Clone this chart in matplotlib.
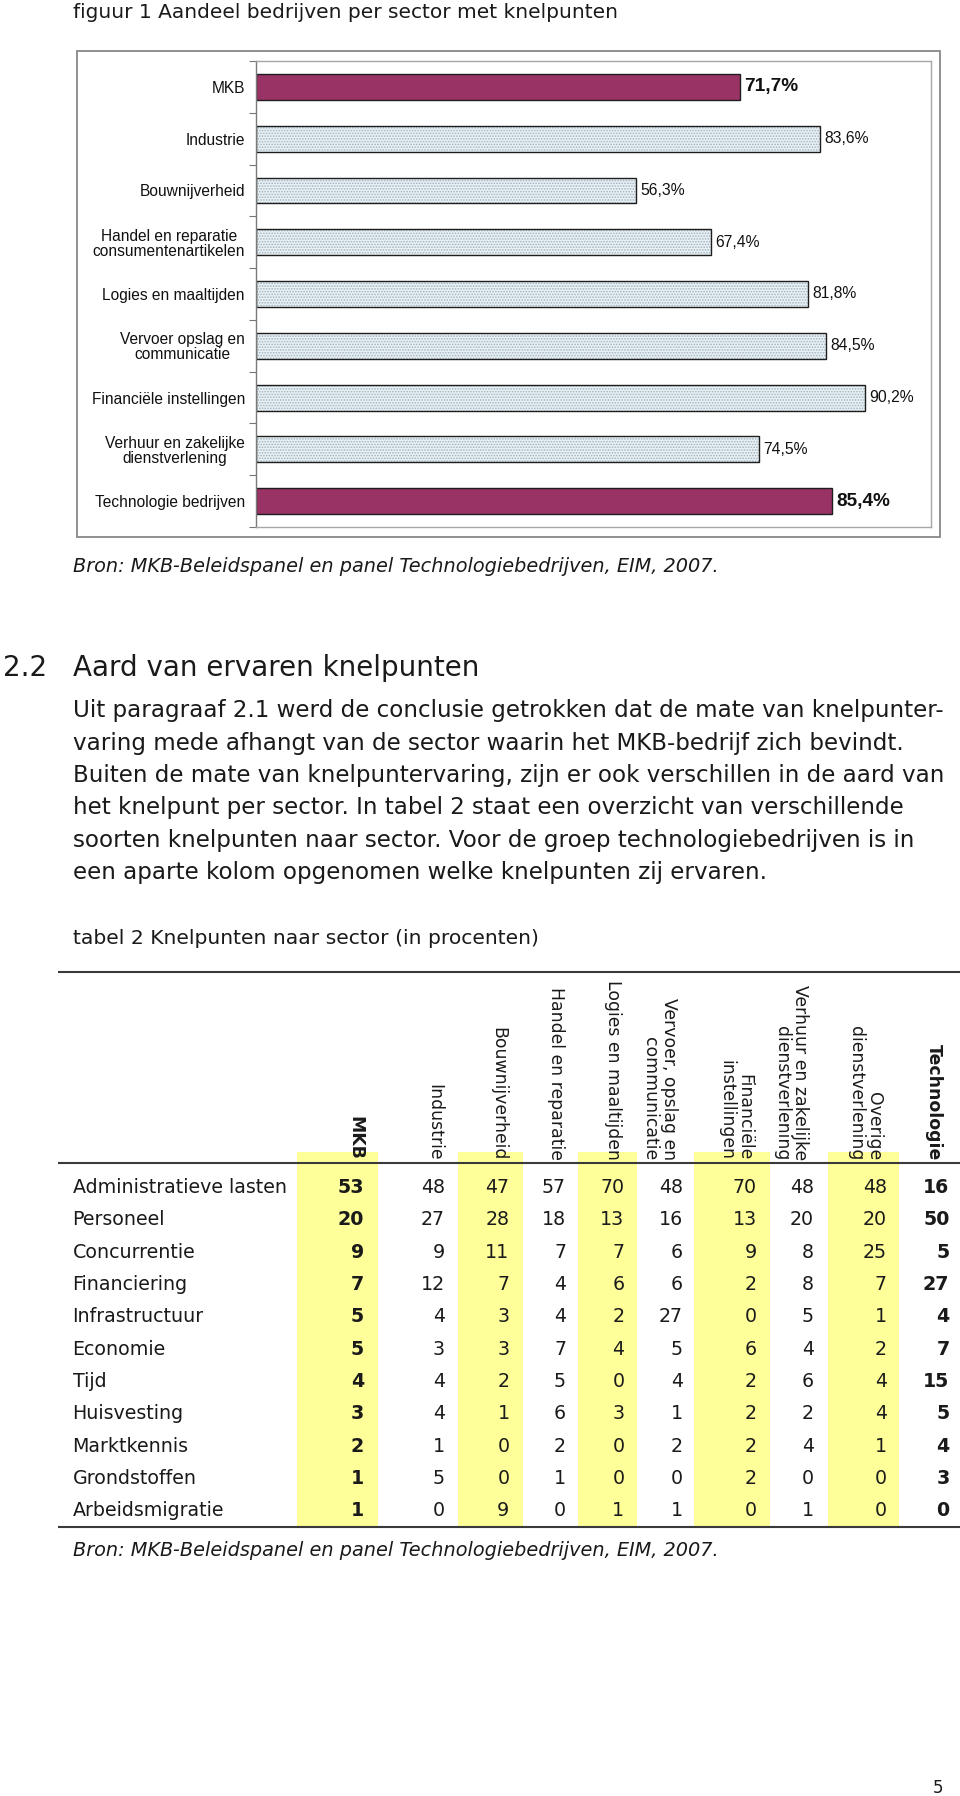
import matplotlib
matplotlib.use("Agg")
import matplotlib.pyplot as plt
from matplotlib.patches import Rectangle
import numpy as np

# ---------------- data ----------------
figure_title = "figuur 1 Aandeel bedrijven per sector met knelpunten"
bar_categories = [
    "MKB",
    "Industrie",
    "Bouwnijverheid",
    "Handel en reparatie\nconsumentenartikelen",
    "Logies en maaltijden",
    "Vervoer opslag en\ncommunicatie",
    "Financiële instellingen",
    "Verhuur en zakelijke\ndienstverlening",
    "Technologie bedrijven",
]
bar_values = [71.7, 83.6, 56.3, 67.4, 81.8, 84.5, 90.2, 74.5, 85.4]
bar_highlight = [True, False, False, False, False, False, False, False, True]

source_text = "Bron: MKB-Beleidspanel en panel Technologiebedrijven, EIM, 2007."
section_number = "2.2"
section_title = "Aard van ervaren knelpunten"
paragraph_lines = [
    "Uit paragraaf 2.1 werd de conclusie getrokken dat de mate van knelpunter-",
    "varing mede afhangt van de sector waarin het MKB-bedrijf zich bevindt.",
    "Buiten de mate van knelpuntervaring, zijn er ook verschillen in de aard van",
    "het knelpunt per sector. In tabel 2 staat een overzicht van verschillende",
    "soorten knelpunten naar sector. Voor de groep technologiebedrijven is in",
    "een aparte kolom opgenomen welke knelpunten zij ervaren.",
]
table_title = "tabel 2 Knelpunten naar sector (in procenten)"
table_columns = [
    "MKB",
    "Industrie",
    "Bouwnijverheid",
    "Handel en reparatie",
    "Logies en maaltijden",
    "Vervoer, opslag en\ncommunicatie",
    "Financiële\ninstellingen",
    "Verhuur en zakelijke\ndienstverlening",
    "Overige\ndienstverlening",
    "Technologie",
]
table_rows = [
    "Administratieve lasten", "Personeel", "Concurrentie", "Financiering",
    "Infrastructuur", "Economie", "Tijd", "Huisvesting", "Marktkennis",
    "Grondstoffen", "Arbeidsmigratie",
]
col_mkb = [53, 20, 9, 7, 5, 5, 4, 3, 2, 1, 1]
col_industrie = [48, 27, 9, 12, 4, 3, 4, 4, 1, 5, 0]
col_bouw = [47, 28, 11, 7, 3, 3, 2, 1, 0, 0, 9]
col_handel = [57, 18, 7, 4, 4, 7, 5, 6, 2, 1, 0]
col_logies = [70, 13, 7, 6, 2, 4, 0, 3, 0, 0, 1]
col_vervoer = [48, 16, 6, 6, 27, 5, 4, 1, 2, 0, 1]
col_financieel = [70, 13, 9, 2, 0, 6, 2, 2, 2, 2, 0]
col_verhuur = [48, 20, 8, 8, 5, 4, 6, 2, 4, 0, 1]
col_overige = [48, 20, 25, 7, 1, 2, 4, 4, 1, 0, 0]
col_technologie = [16, 50, 5, 27, 4, 7, 15, 5, 4, 3, 0]
bold_columns = ["MKB", "Technologie"]
shaded_columns = ["MKB", "Bouwnijverheid", "Logies en maaltijden",
                  "Financiële\ninstellingen", "Overige\ndienstverlening"]
page_number = "5"

table_values = [col_mkb, col_industrie, col_bouw, col_handel, col_logies,
                col_vervoer, col_financieel, col_verhuur, col_overige,
                col_technologie]

# ---------------- layout (pixels) ----------------
W, H = 960, 1796
TXT = "#1a1a1a"
col_bounds = [297, 378, 458, 523, 578, 637, 694, 770, 828, 899, 962]
num_right = [364, 445, 509.5, 566, 624.5, 683, 757, 814, 887, 949.5]
hdr_x = [355.7, 434.5, 498.5, 556, 613.5, 659.5, 735, 791, 865, 934]
row_y0, row_dy = 1187.5, 32.35

plt.rcParams["font.family"] = ["DejaVu Sans"]
fig = plt.figure(figsize=(W / 100, H / 100), dpi=100)
pg = fig.add_axes([0, 0, 1, 1])
pg.set_xlim(0, W)
pg.set_ylim(H, 0)
pg.axis("off")

fig.canvas.draw()
renderer = fig.canvas.get_renderer()


def fitted_size(s, target, base=12.0, **kw):
    t = pg.text(0, 0, s, fontsize=base, **kw)
    w = t.get_window_extent(renderer=renderer).width
    t.remove()
    return base * target / w


# title
fs = fitted_size(figure_title, 543)
pg.text(72.6, 13, figure_title, fontsize=fs, va="center", ha="left", color=TXT)

# chart frame
pg.add_patch(Rectangle((77, 51), 863, 486, fill=False, ec="#888888", lw=1.3))

# ---------------- bar chart ----------------
ax = fig.add_axes([256 / W, 1 - 527 / H, (931 - 256) / W, (527 - 61) / H])
ypos = np.arange(len(bar_values))
faces = ["#993366" if h else "#eaf1f5" for h in bar_highlight]
plt.rcParams["hatch.linewidth"] = 0.8
fill = ax.barh(ypos, bar_values, height=0.5, color=faces, linewidth=0)
for p, h in zip(fill.patches, bar_highlight):
    if not h:
        p.set_hatch("......")
        p.set_edgecolor("#9fb3bd")
ax.barh(ypos, bar_values, height=0.5, fill=False, edgecolor="#1e1e1e", linewidth=1.0)

for yi, v, h in zip(ypos, bar_values, bar_highlight):
    lab = f"{v:.1f}".replace(".", ",") + "%"
    ax.annotate(lab, (v, yi), xytext=(3, 0), textcoords="offset points",
                va="center", ha="left", color="#111111",
                fontsize=13.7 if h else 11.3,
                fontweight="bold" if h else "normal",
                family="Liberation Sans")

ax.set_xlim(0, 100)
ax.set_ylim(len(bar_values) - 0.5, -0.5)
ax.set_xticks([])
ax.set_yticks(ypos)
ax.set_yticklabels(bar_categories, fontsize=11.2, family="Liberation Sans",
                   linespacing=1.0, color="#111111")
for t in ax.get_yticklabels():
    t.set_multialignment("center")
ax.tick_params(axis="y", which="major", length=0, pad=8)
ax.set_yticks(np.arange(-0.5, len(bar_values)), minor=True)
ax.tick_params(axis="y", which="minor", length=5, width=0.8, color="#777777",
               direction="out")
ax.spines["left"].set_color("#7a7a7a")
for s in ("top", "right", "bottom"):
    ax.spines[s].set_color("#a6a6a6")
for s in ax.spines.values():
    s.set_linewidth(1.0)

# ---------------- text ----------------
fs = fitted_size(source_text, 641.6, style="italic")
pg.text(72.6, 566, source_text, fontsize=fs, style="italic", va="center", color=TXT)

fs = fitted_size(section_title, 404.5)
pg.text(3, 668, section_number, fontsize=fs, va="center", color=TXT)
pg.text(72.6, 668, section_title, fontsize=fs, va="center", color=TXT)

fs = fitted_size(paragraph_lines[0], 866)
for k, line in enumerate(paragraph_lines):
    pg.text(72.6, 711 + k * 32.3, line, fontsize=fs, va="center", color=TXT)

fs = fitted_size(table_title, 463)
pg.text(72.6, 938, table_title, fontsize=fs, va="center", color=TXT)

# ---------------- table ----------------
for name in shaded_columns:
    i = table_columns.index(name)
    pg.add_patch(Rectangle((col_bounds[i], 1152), col_bounds[i + 1] - col_bounds[i],
                           1527 - 1152, color="#ffff99", lw=0, zorder=0))
for yline in (972, 1163, 1527):
    pg.plot([58, W], [yline, yline], color="#3a3a3a", lw=1.5, solid_capstyle="butt")

fs_hdr = fitted_size("Handel en reparatie", 171.3)
for name, cx in zip(table_columns, hdr_x):
    pg.text(cx, 1160, name, rotation=-90, ha="center", va="bottom",
            multialignment="right", fontsize=fs_hdr, linespacing=1.0,
            fontweight="bold" if name in bold_columns else "normal", color=TXT)

fs_row = fitted_size(table_rows[0], 213)
for i, rl in enumerate(table_rows):
    yy = row_y0 + i * row_dy
    pg.text(72.6, yy, rl, fontsize=fs_row, va="center", ha="left", color=TXT)
    for j, name in enumerate(table_columns):
        pg.text(num_right[j], yy, str(table_values[j][i]), fontsize=fs_row,
                va="center", ha="right", color=TXT,
                fontweight="bold" if name in bold_columns else "normal")

fs = fitted_size(source_text, 641.6, style="italic")
pg.text(72.6, 1550, source_text, fontsize=fs, style="italic", va="center", color=TXT)

pg.text(938, 1788, page_number, fontsize=12, ha="center", va="center", color=TXT)

fig.savefig("out.png", dpi=100)
